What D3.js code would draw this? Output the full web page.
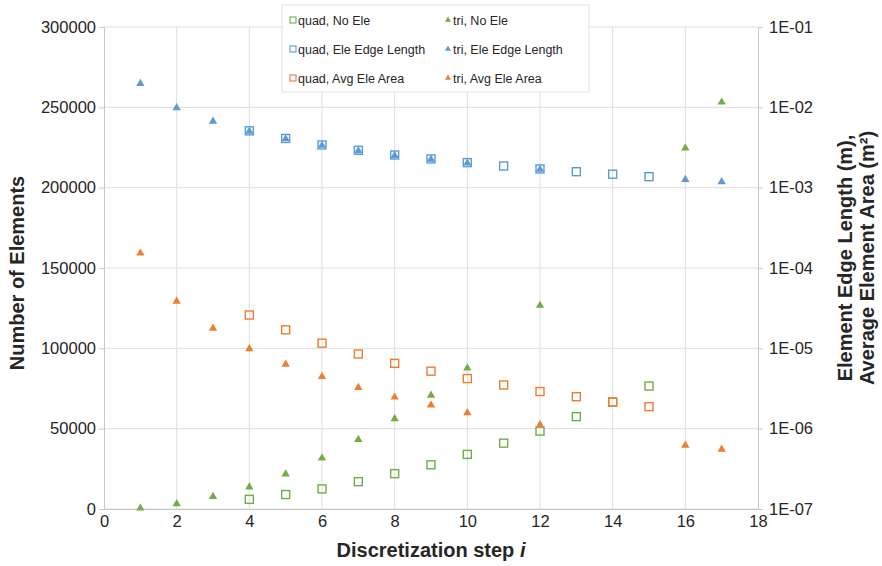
<!DOCTYPE html>
<html><head><meta charset="utf-8">
<script src="https://cdn.jsdelivr.net/npm/d3@7"></script>
<style>body{margin:0;background:#fff}svg{display:block;font-family:"Liberation Sans",Arial,sans-serif}</style>
</head><body><svg id="c" width="882" height="566"></svg>
<script>
// ---- data ----
const xTicks = [0,2,4,6,8,10,12,14,16,18];
const leftTicks = [0,50000,100000,150000,200000,250000,300000];
const rightTicks = [1e-7,1e-6,1e-5,1e-4,1e-3,1e-2,1e-1];
const rightTickLabels = ["1E-07","1E-06","1E-05","1E-04","1E-03","1E-02","1E-01"];

const quadSteps = [4,5,6,7,8,9,10,11,12,13,14,15];
const quadNoEle = [6000,9000,12500,17000,22000,27500,34000,41000,48500,57500,66500,76500];
const quadEdge = [5.1e-3,4.1e-3,3.4e-3,2.92e-3,2.55e-3,2.28e-3,2.05e-3,1.86e-3,1.71e-3,1.58e-3,1.47e-3,1.37e-3];
const quadArea = [2.6e-5,1.7e-5,1.16e-5,8.5e-6,6.5e-6,5.2e-6,4.2e-6,3.5e-6,2.9e-6,2.5e-6,2.15e-6,1.88e-6];

const triSteps = [1,2,3,4,5,6,7,8,9,10,12,16,17];
const triNoEle = [800,3500,8000,14000,22000,32000,43500,56500,71000,88000,127000,225000,253500];
const triEdge = [2.0e-2,1.0e-2,6.8e-3,5.1e-3,4.1e-3,3.4e-3,2.92e-3,2.55e-3,2.28e-3,2.05e-3,1.71e-3,1.28e-3,1.2e-3];
const triArea = [1.55e-4,3.9e-5,1.8e-5,1.0e-5,6.4e-6,4.5e-6,3.3e-6,2.5e-6,2.0e-6,1.6e-6,1.13e-6,6.3e-7,5.6e-7];

const seriesNames = ["quad, No Ele","tri, No Ele","quad, Ele Edge Length","tri, Ele Edge Length","quad, Avg Ele Area","tri, Avg Ele Area"];
const colors = {green:"#70AD47", blue:"#5B9BD5", orange:"#ED7D31"};

// ---- layout ----
const svg = d3.select("#c");
const L=104, R=758, T=27, B=509;
const x = d3.scaleLinear().domain([0,18]).range([L,R]);
const yL = d3.scaleLinear().domain([0,300000]).range([B,T]);
const yR = d3.scaleLog().domain([1e-7,1e-1]).range([B,T]);
const grid="#dedede", axisC="#c8c8c8", txt="#262626";

// gridlines
svg.append("g").selectAll("line").data(leftTicks).join("line")
  .attr("x1",L).attr("x2",R).attr("y1",d=>yL(d)).attr("y2",d=>yL(d))
  .attr("stroke",grid).attr("stroke-width",1);
svg.append("g").selectAll("line").data(xTicks.slice(1,-1)).join("line")
  .attr("x1",d=>x(d)).attr("x2",d=>x(d)).attr("y1",T).attr("y2",B)
  .attr("stroke",grid).attr("stroke-width",1);

// axes
const gl = svg.append("g").attr("transform",`translate(${L},0)`)
  .call(d3.axisLeft(yL).tickValues(leftTicks).tickSize(5).tickPadding(3).tickFormat(d3.format("d")));
const gr = svg.append("g").attr("transform",`translate(${R},0)`)
  .call(d3.axisRight(yR).tickValues(rightTicks).tickSize(5).tickPadding(6).tickFormat((d,i)=>rightTickLabels[i]));
const gb = svg.append("g").attr("transform",`translate(0,${B})`)
  .call(d3.axisBottom(x).tickValues(xTicks).tickSize(0).tickPadding(6).tickFormat(d3.format("d")));
[gl,gr,gb].forEach(g=>{
  g.select(".domain").attr("stroke",axisC);
  g.selectAll(".tick line").attr("stroke",axisC);
  g.selectAll("text").attr("fill",txt).attr("font-size","16.5px").attr("font-family","Liberation Sans, Arial, sans-serif");
});

// markers
const sq = 8, triSym = d3.symbol().type(d3.symbolTriangle).size(30);
function squares(xs, ys, scale, color){
  svg.append("g").selectAll("rect").data(xs).join("rect")
    .attr("x",(d)=>x(d)-sq/2).attr("y",(d,i)=>scale(ys[i])-sq/2)
    .attr("width",sq).attr("height",sq).attr("fill","#fff").attr("fill-opacity",0)
    .attr("stroke",color).attr("stroke-width",1.4);
}
function tris(xs, ys, scale, color){
  svg.append("g").selectAll("path").data(xs).join("path")
    .attr("d",triSym).attr("transform",(d,i)=>`translate(${x(d)},${scale(ys[i])+0.5})`)
    .attr("fill",color);
}
squares(quadSteps, quadNoEle, yL, colors.green);
squares(quadSteps, quadEdge, yR, colors.blue);
squares(quadSteps, quadArea, yR, colors.orange);
tris(triSteps, triNoEle, yL, colors.green);
tris(triSteps, triEdge, yR, colors.blue);
tris(triSteps, triArea, yR, colors.orange);

// axis titles
svg.append("text").attr("transform",`translate(24,${(T+B)/2+5}) rotate(-90)`)
  .attr("text-anchor","middle").attr("font-weight","bold").attr("font-size","20px").attr("fill",txt)
  .text("Number of Elements");
const rt = svg.append("text").attr("transform",`translate(852,${(T+B)/2-10}) rotate(-90)`)
  .attr("text-anchor","middle").attr("font-weight","bold").attr("font-size","20px").attr("fill",txt);
rt.append("tspan").attr("x",0).attr("dy",0).text("Element Edge Length (m),");
rt.append("tspan").attr("x",0).attr("dy",22).text("Average Element Area (m²)");
const xt = svg.append("text").attr("x",(L+R)/2).attr("y",557).attr("text-anchor","middle")
  .attr("font-weight","bold").attr("font-size","20px").attr("fill",txt);
xt.append("tspan").text("Discretization step ");
xt.append("tspan").attr("font-style","italic").text("i");

// legend
const lg = svg.append("g");
lg.append("rect").attr("x",282).attr("y",5).attr("width",307).attr("height",87)
  .attr("fill","#fff").attr("stroke","#e2e2e2");
const legColors = [colors.green,colors.green,colors.blue,colors.blue,colors.orange,colors.orange];
seriesNames.forEach((n,i)=>{
  const col=i%2, row=Math.floor(i/2);
  const cx = col===0?293:448, cy = 20+row*29;
  if(col===0){
    lg.append("rect").attr("x",cx-3).attr("y",cy-3).attr("width",6).attr("height",6)
      .attr("fill","none").attr("stroke",legColors[i]).attr("stroke-width",1.1);
  } else {
    lg.append("path").attr("d",d3.symbol().type(d3.symbolTriangle).size(16)).attr("transform",`translate(${cx},${cy})`).attr("fill",legColors[i]);
  }
  lg.append("text").attr("x",cx+5).attr("y",cy+4.5).attr("font-size","12.5px").attr("fill",txt).text(n);
});
</script></body></html>
